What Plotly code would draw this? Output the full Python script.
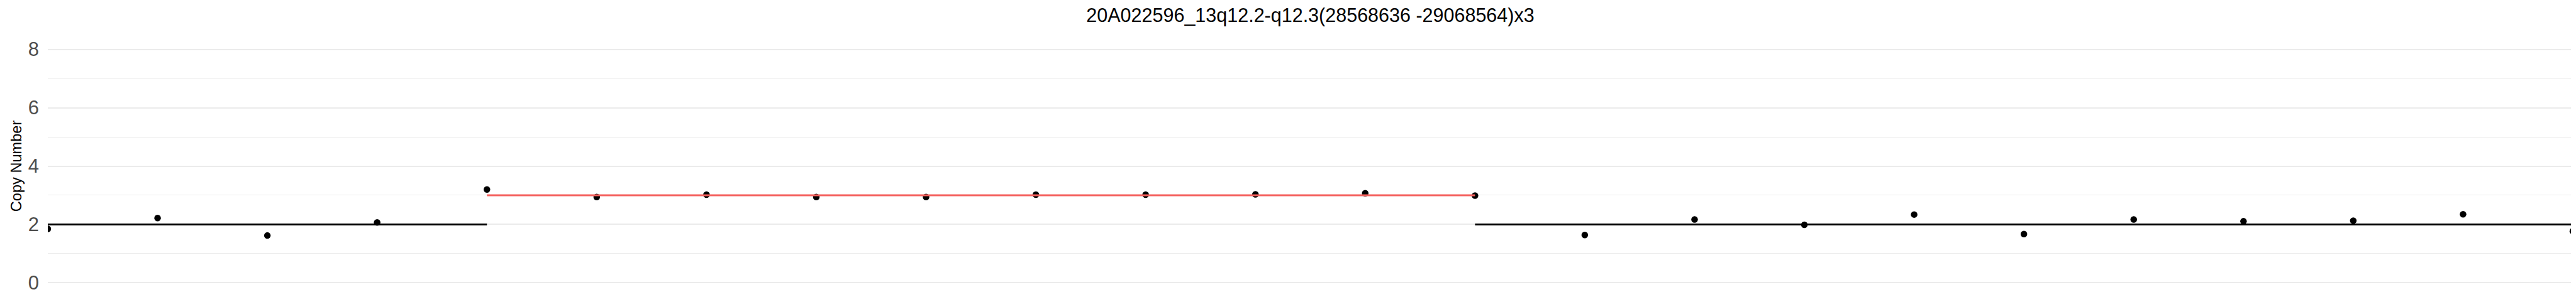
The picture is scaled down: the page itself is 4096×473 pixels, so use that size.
import plotly.graph_objects as go

# ---- data ----
probe_index = list(range(24))
copy_number = [1.85, 2.22, 1.62, 2.07, 3.20, 2.94, 3.02, 2.94, 2.94, 3.02, 3.02, 3.03,
               3.07, 2.99, 1.64, 2.17, 1.99, 2.34, 1.67, 2.17, 2.11, 2.13, 2.35, 1.77]
seg_start = [0, 4, 13]
seg_end = [4, 13, 23]
seg_value = [2, 3, 2]
seg_color = ["#000000", "#F4605D", "#000000"]
y_ticks = [0, 2, 4, 6, 8]
title_text = "20A022596_13q12.2-q12.3(28568636 -29068564)x3"
y_title = "Copy Number"

FONT = "Liberation Sans, Arial, Helvetica, sans-serif"

fig = go.Figure()
fig.add_trace(go.Scatter(
    x=probe_index, y=copy_number, mode="markers",
    marker=dict(color="black", size=10.5, line=dict(width=0)),
    showlegend=False, hoverinfo="x+y", cliponaxis=True,
))
for s, e, v, c in zip(seg_start, seg_end, seg_value, seg_color):
    fig.add_trace(go.Scatter(
        x=[s, e], y=[v, v], mode="lines",
        line=dict(color=c, width=3),
        showlegend=False, hoverinfo="skip",
    ))

W, H = 4096, 473
fig.update_layout(
    width=W, height=H,
    paper_bgcolor="white", plot_bgcolor="white",
    margin=dict(l=68.3, r=13, t=52.3, b=12.4, autoexpand=False),
    title=dict(text=title_text, x=0.5, xref="paper", xanchor="center",
               y=1 - 27 / H, yref="container", yanchor="bottom",
               font=dict(family=FONT, size=30.5, color="black")),
    xaxis=dict(range=[0, 23], showgrid=False, zeroline=False, showline=False,
               showticklabels=False, ticks=""),
    yaxis=dict(range=[-0.4, 8.4], tickvals=y_ticks, showgrid=True,
               gridcolor="#EBEBEB", gridwidth=2.1, zeroline=False, showline=False,
               ticks="", ticklabelstandoff=13,
               tickfont=dict(family=FONT, size=31, color="#4D4D4D"),
               minor=dict(dtick=1, tick0=0, showgrid=True, gridcolor="#EBEBEB",
                          gridwidth=1.2, ticks="")),
    annotations=[dict(text=y_title, textangle=-90, xref="paper", yref="paper",
                      x=0, y=0.5, xanchor="center", yanchor="middle",
                      xshift=-(68.3 - 18), showarrow=False,
                      font=dict(family=FONT, size=23.6, color="black"))],
)

fig.write_html("out.html")
